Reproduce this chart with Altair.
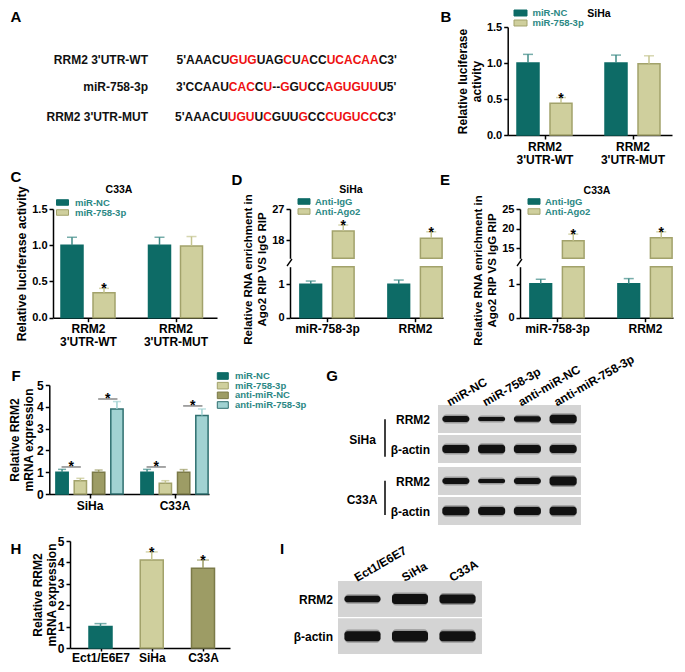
import altair as alt
import pandas as pd

FONT = "Liberation Sans"
OX, OY = 8, 8
W, H = 669, 656


def X(v):
    return v - OX


def Y(v):
    return v - OY


# ---------------- data ----------------
A_labels = ["RRM2 3'UTR-WT", "miR-758-3p", "RRM2 3'UTR-MUT"]
A_runs = [
    ["5'AAACU", "GUG", "UAG", "C", "U", "A", "CC", "UCACAA", "C3'"],
    ["3'CCAAU", "CAC", "C", "U", "--", "G", "G", "U", "CC", "AGUGUU", "U5'"],
    ["5'AAACU", "UGU", "U", "C", "GUU", "G", "CC", "CUGUCC", "C3'"],
]

B_groups = ["RRM2|3'UTR-WT", "RRM2|3'UTR-MUT"]
B_series = ["miR-NC", "miR-758-3p"]
B_mean = {"miR-NC": [1.00, 1.00], "miR-758-3p": [0.44, 0.99]}
B_err = {"miR-NC": [0.12, 0.11], "miR-758-3p": [0.08, 0.11]}
B_star = {"miR-NC": [0, 0], "miR-758-3p": [1, 0]}

C_groups = ["RRM2|3'UTR-WT", "RRM2|3'UTR-MUT"]
C_series = ["miR-NC", "miR-758-3p"]
C_mean = {"miR-NC": [1.00, 1.00], "miR-758-3p": [0.345, 0.99]}
C_err = {"miR-NC": [0.11, 0.11], "miR-758-3p": [0.06, 0.13]}
C_star = {"miR-NC": [0, 0], "miR-758-3p": [1, 0]}

D_groups = ["miR-758-3p", "RRM2"]
D_series = ["Anti-IgG", "Anti-Ago2"]
D_mean = {"Anti-IgG": [1.00, 1.00], "Anti-Ago2": [20.6, 18.5]}
D_err = {"Anti-IgG": [0.10, 0.13], "Anti-Ago2": [1.75, 1.9]}
D_star = {"Anti-IgG": [0, 0], "Anti-Ago2": [1, 1]}

E_groups = ["miR-758-3p", "RRM2"]
E_series = ["Anti-IgG", "Anti-Ago2"]
E_mean = {"Anti-IgG": [1.00, 1.00], "Anti-Ago2": [16.9, 17.7]}
E_err = {"Anti-IgG": [0.13, 0.15], "Anti-Ago2": [1.7, 1.5]}
E_star = {"Anti-IgG": [0, 0], "Anti-Ago2": [1, 1]}

F_groups = ["SiHa", "C33A"]
F_series = ["miR-NC", "miR-758-3p", "anti-miR-NC", "anti-miR-758-3p"]
F_mean = {"miR-NC": [1.00, 1.00], "miR-758-3p": [0.61, 0.49],
          "anti-miR-NC": [1.00, 1.00], "anti-miR-758-3p": [3.90, 3.60]}
F_err = {"miR-NC": [0.13, 0.13], "miR-758-3p": [0.11, 0.12],
         "anti-miR-NC": [0.10, 0.12], "anti-miR-758-3p": [0.34, 0.30]}
F_star = {s: [0, 0] for s in F_series}
F_brk_group = ["SiHa", "SiHa", "C33A", "C33A"]
F_brk_left = ["miR-NC", "anti-miR-NC", "miR-NC", "anti-miR-NC"]
F_brk_y = [1.24, 4.36, 1.24, 4.04]

G_lanes = ["miR-NC", "miR-758-3p", "anti-miR-NC", "anti-miR-758-3p"]
G_cells = ["SiHa", "C33A"]
G_rows = ["RRM2", "β-actin"]
G_band = [[6.0, 4.0, 5.5, 8.5], [8.0, 8.5, 8.0, 8.0],
          [6.0, 4.0, 6.0, 9.0], [8.5, 8.0, 8.0, 8.5]]

H_groups = ["Ect1/E6E7", "SiHa", "C33A"]
H_mean = [1.00, 4.11, 3.73]
H_err = [0.14, 0.38, 0.38]
H_star = [0, 1, 1]

I_lanes = ["Ect1/E6E7", "SiHa", "C33A"]
I_rows = ["RRM2", "β-actin"]
I_band = [[6.5, 10.0, 9.0], [10.0, 10.5, 10.0]]

# ---------------- styles ----------------
TEAL, KHAKI, OLIVE, CYAN = "#0d6b66", "#cfcf9d", "#9d9c65", "#a1d2d2"
TEAL_S, KHAKI_S, OLIVE_S, CYAN_S = "#0d6b66", "#a2a26b", "#7b7a48", "#2f6f6f"
TEAL_E, KHAKI_E, OLIVE_E, CYAN_E = "#3f8b87", "#c4c48f", "#9d9c65", "#a1d2d2"
LEG_TXT = "#2b8884"

AXS = dict(labelFont=FONT, labelFontWeight="bold", labelColor="black",
           domainColor="black", tickColor="black", domainWidth=1.5, tickWidth=1.5,
           grid=False)


def long_df(groups, series, mean, err, star):
    rows = []
    for s in series:
        for i, g in enumerate(groups):
            rows.append(dict(group=g, series=s, mean=mean[s][i], err=err[s][i], star=star[s][i]))
    df = pd.DataFrame(rows)
    df["upper"] = df["mean"] + df["err"]
    return df


def point_scale(L, R, centers, domain):
    n = len(centers)
    S = R - L
    step = (centers[-1] - centers[0]) / (n - 1)
    pad = (S / step - (n - 1)) / 2
    align = (centers[0] - L) / (S - step * (n - 1))
    return alt.Scale(type="point", domain=domain, range=[X(L), X(R)], padding=pad, align=align)


def off_scale(domain, s, w, shift=0.0):
    n = len(domain)
    total = s * (n - 1) + w
    return alt.Scale(type="band", domain=domain, range=[-total / 2 + shift, total / 2 + shift],
                     paddingInner=1 - w / s, paddingOuter=0)


def y_scale(lo, hi, ybot, ytop, clamp=False):
    return alt.Scale(domain=[lo, hi], range=[Y(ybot), Y(ytop)], clamp=clamp, zero=False, nice=False)


def yaxis(axis_x, values, fmt, size=11, title=None, title_left=None, titleY=None, tfs=12):
    kw = dict(AXS)
    kw.update(orient="left", values=values, format=fmt, labelFontSize=size, tickSize=4, labelPadding=2,
              offset=-X(axis_x))
    if title is not None:
        kw.update(title=title, titleFont=FONT, titleFontWeight="bold", titleColor="black",
                  titleFontSize=tfs, titleLineHeight=14, titleAngle=270, titleBaseline="top",
                  titleAlign="center")
        if title_left is not None:
            kw["titleX"] = title_left - axis_x
        if titleY is not None:
            kw["titleY"] = Y(titleY)
    else:
        kw["title"] = None
    return alt.Axis(**kw)


def xaxis(axis_y, size=12, multi=False, tick=4, pad=2):
    kw = dict(AXS)
    kw.update(orient="bottom", title=None, labelAngle=0, labelFontSize=size, tickSize=tick, labelPadding=pad,
              offset=Y(axis_y) - H)
    if multi:
        kw.update(labelExpr="split(datum.label, '|')", labelLineHeight=13)
    return alt.Axis(**kw)


def bar_group(df, series, xs, ys, offs, fills, strokes, errs, xax, yax, base,
              show_bars=None, show_err=None, cap=10, star_dy=5):
    fill = alt.Fill("series:N", scale=alt.Scale(domain=series, range=fills), legend=None)
    stroke = alt.Stroke("series:N", scale=alt.Scale(domain=series, range=strokes), legend=None)
    ecol = alt.Color("series:N", scale=alt.Scale(domain=series, range=errs), legend=None)

    def xo():
        return alt.XOffset("series:N", scale=offs)

    dfb = df if show_bars is None else df[df["series"].isin(show_bars)]
    dfe = df if show_err is None else df[df["series"].isin(show_err)]
    bars = alt.Chart(dfb).mark_bar(strokeWidth=1.5).encode(
        x=alt.X("group:N", scale=xs, axis=xax), xOffset=xo(),
        y=alt.Y("mean:Q", scale=ys, axis=yax), y2=alt.datum(base), fill=fill, stroke=stroke)
    rule = alt.Chart(dfe).mark_rule(strokeWidth=1.5).encode(
        x=alt.X("group:N", scale=xs, axis=None), xOffset=xo(),
        y=alt.Y("mean:Q", scale=ys, axis=None), y2="upper:Q", color=ecol)
    capm = alt.Chart(dfe).mark_tick(size=cap, thickness=1.5).encode(
        x=alt.X("group:N", scale=xs, axis=None), xOffset=xo(),
        y=alt.Y("upper:Q", scale=ys, axis=None), color=ecol)
    layers = [bars, rule, capm]
    dfs = dfe[dfe["star"] == 1]
    if len(dfs):
        st = alt.Chart(dfs).mark_text(text="*", font=FONT, fontWeight="bold", fontSize=14,
                                      baseline="alphabetic", dy=star_dy, color="black").encode(
            x=alt.X("group:N", scale=xs, axis=None), xOffset=xo(),
            y=alt.Y("upper:Q", scale=ys, axis=None))
        layers.append(st)
    return layers


def legend(series, fills, strokes, sym_x, txt_x, y_first, y_last, path, size, fs=9.5):
    df = pd.DataFrame({"series": series})
    ys = alt.Scale(type="point", domain=series, range=[Y(y_first), Y(y_last)], padding=0)
    sym = alt.Chart(df).mark_point(shape=path, filled=True, size=size, strokeWidth=1, opacity=1).encode(
        x=alt.value(X(sym_x)), y=alt.Y("series:N", scale=ys, axis=None),
        fill=alt.Fill("series:N", scale=alt.Scale(domain=series, range=fills), legend=None),
        stroke=alt.Stroke("series:N", scale=alt.Scale(domain=series, range=strokes), legend=None))
    txt = alt.Chart(df).mark_text(align="left", baseline="middle", font=FONT, fontWeight="bold",
                                  fontSize=fs, color=LEG_TXT).encode(
        x=alt.value(X(txt_x)), y=alt.Y("series:N", scale=ys, axis=None), text="series:N")
    return [sym, txt]


def text_layer(rows, align, baseline="middle", color="black"):
    df = pd.DataFrame(rows, columns=["txt", "xp", "yp", "fs"])
    df["xp"] = df["xp"] - OX
    df["yp"] = df["yp"] - OY
    return alt.Chart(df).mark_text(align=align, baseline=baseline, font=FONT, fontWeight="bold",
                                   color=color).encode(
        x=alt.X("xp:Q", scale=None), y=alt.Y("yp:Q", scale=None), text="txt:N",
        size=alt.Size("fs:Q", scale=None))


def strip(lanes, thick, xs, y_top, y_bot, col_labels=None, lab_y=None, lab_dx=-7, lab_fs=12):
    df = pd.DataFrame({"lane": lanes, "t": thick})
    half = (y_bot - y_top) / 2
    ys = alt.Scale(domain=[-half, half], range=[Y(y_bot), Y(y_top)], nice=False, zero=False)
    x0 = xs.range[0]
    x1 = xs.range[1]
    bg = alt.Chart(pd.DataFrame({"k": [0]})).mark_rect(color="#d4d4d4").encode(
        x=alt.value(x0), x2=alt.value(x1), y=alt.value(Y(y_top)), y2=alt.value(Y(y_bot)))
    halo = alt.Chart(df).transform_calculate(hi="datum.t/2 + 1.6", lo="-datum.t/2 - 1.6").mark_bar(
        color="#2a2a2a", opacity=0.35, cornerRadius=4).encode(
        x=alt.X("lane:N", scale=xs, axis=None), y=alt.Y("hi:Q", scale=ys, axis=None), y2="lo:Q")
    band = alt.Chart(df).transform_calculate(hi="datum.t/2", lo="-datum.t/2").mark_bar(
        color="#111111", cornerRadius=3).encode(
        x=alt.X("lane:N", scale=xs, axis=None), y=alt.Y("hi:Q", scale=ys, axis=None), y2="lo:Q")
    layers = [bg, halo, band]
    if col_labels:
        lab = alt.Chart(df).mark_text(angle=330, align="left", baseline="alphabetic", dx=lab_dx,
                                      font=FONT, fontWeight="bold", fontSize=lab_fs, color="black").encode(
            x=alt.X("lane:N", scale=xs, axis=None), y=alt.value(Y(lab_y)), text="lane:N")
        layers.append(lab)
    return layers


def band_scale(L, R, domain, pin, pout):
    return alt.Scale(type="band", domain=domain, range=[X(L), X(R)], paddingInner=pin, paddingOuter=pout)


children = []

# ---------------- panel A ----------------
WID = {"A": 722, "C": 722, "G": 778, "U": 722, "'": 238, "5": 556, "3": 556, "-": 333}
A_y = [60, 87, 117]
A_x0 = [176.5, 176.0, 175.0]
A_fs = 12
red_rows, blk_rows = [], []
for r, runs in enumerate(A_runs):
    xcur = A_x0[r]
    for k, run in enumerate(runs):
        (red_rows if k % 2 == 1 else blk_rows).append((run, xcur, A_y[r], A_fs))
        xcur += sum(WID[c] for c in run) * A_fs / 1000.0
children.append(text_layer(blk_rows, "left", color="#111111"))
children.append(text_layer(red_rows, "left", color="#ee1111"))
children.append(text_layer([(A_labels[i], 148, A_y[i], A_fs) for i in range(3)], "right", color="#111111"))

# ---------------- panel B ----------------
dfB = long_df(B_groups, B_series, B_mean, B_err, B_star)
xsB = point_scale(507.7, 672, [544.5, 632.5], B_groups)
ysB = y_scale(0, 1.5, 135, 27)
ofB = off_scale(B_series, 33, 22)
children += bar_group(
    dfB, B_series, xsB, ysB, ofB, [TEAL, KHAKI], [TEAL_S, KHAKI_S], [TEAL_E, KHAKI_E],
    xaxis(135, multi=True),
    yaxis(507.7, [0, 0.5, 1.0, 1.5], ".1f", title=["Relative luciferase", "activity"], title_left=457), 0)
children += legend(B_series, [TEAL, KHAKI], [TEAL_S, KHAKI_S], 520.5, 532.5, 13, 23,
                   "M-1,-0.46H1V0.46H-1Z", 169)

# ---------------- panel C ----------------
dfC = long_df(C_groups, C_series, C_mean, C_err, C_star)
xsC = point_scale(53, 217, [88, 175.5], C_groups)
ysC = y_scale(0, 1.5, 317.7, 209)
ofC = off_scale(C_series, 32, 22)
children += bar_group(
    dfC, C_series, xsC, ysC, ofC, [TEAL, KHAKI], [TEAL_S, KHAKI_S], [TEAL_E, KHAKI_E],
    xaxis(317.7, multi=True),
    yaxis(53, [0, 0.5, 1.0, 1.5], ".1f", title="Relative luciferase activity", title_left=15, tfs=12.4), 0)
children += legend(C_series, [TEAL, KHAKI], [TEAL_S, KHAKI_S], 62.5, 75, 202.5, 212.5,
                   "M-1,-0.46H1V0.46H-1Z", 144)


# ---------------- panels D and E (broken axes) ----------------
def broken_panel(groups, series, mean, err, star, L, R, centers, axis_x,
                 low_top, up_lo, up_bot, up_hi, up_vals, titleY, title_left):
    df = long_df(groups, series, mean, err, star)
    xs = point_scale(L, R, centers, groups)
    of = off_scale(series, 32.5, 21.7)
    ys_low = y_scale(0, low_top, 317.7, 266.7, clamp=True)
    ys_up = y_scale(up_lo, up_hi, up_bot, 209, clamp=True)
    low = bar_group(df, series, xs, ys_low, of, [TEAL, KHAKI], [TEAL_S, KHAKI_S], [TEAL_E, KHAKI_E],
                    xaxis(317.7),
                    yaxis(axis_x, [0, 1], "d", title=["Relative RNA enrichment in", "Ago2 RIP VS IgG RIP"],
                          title_left=title_left, titleY=titleY, tfs=11.5),
                    0, show_err=[series[0]])
    up = bar_group(df, series, xs, ys_up, of, [TEAL, KHAKI], [TEAL_S, KHAKI_S], [TEAL_E, KHAKI_E],
                   None, yaxis(axis_x, up_vals, "d"), up_lo, show_bars=[series[1]], show_err=[series[1]])
    brk = alt.Chart(pd.DataFrame({"k": [0]})).mark_rule(color="black", strokeWidth=1.3).encode(
        x=alt.value(X(axis_x - 3)), x2=alt.value(X(axis_x + 2)),
        y=alt.value(Y(266)), y2=alt.value(Y(259)))
    return low + up + [brk]


children += broken_panel(D_groups, D_series, D_mean, D_err, D_star, 290, 443, [327, 415], 290,
                         1.53, 12.7, 258.3, 27, [18, 27], 269, 242)
children += legend(D_series, [TEAL, KHAKI], [TEAL_S, KHAKI_S], 304, 315, 201.5, 211.5,
                   "M-1,-0.46H1V0.46H-1Z", 144)
children += broken_panel(E_groups, E_series, E_mean, E_err, E_star, 520, 673, [557, 645], 520,
                         1.5, 12.45, 258.3, 25, [15, 20, 25], 270, 472)
children += legend(E_series, [TEAL, KHAKI], [TEAL_S, KHAKI_S], 534, 545, 201.5, 211.5,
                   "M-1,-0.46H1V0.46H-1Z", 144)

# ---------------- panel F ----------------
dfF = long_df(F_groups, F_series, F_mean, F_err, F_star)
xsF = point_scale(49.3, 209, [89.5, 174.5], F_groups)
ysF = y_scale(0, 5, 494, 385)
F_s, F_w = 18.3, 12.3
ofF = off_scale(F_series, F_s, F_w)
F_fills = [TEAL, KHAKI, OLIVE, CYAN]
F_strokes = [TEAL_S, KHAKI_S, OLIVE_S, CYAN_S]
F_errs = [TEAL_E, KHAKI_E, OLIVE_E, CYAN_E]
children += bar_group(dfF, F_series, xsF, ysF, ofF, F_fills, F_strokes, F_errs,
                      xaxis(494), yaxis(49.3, [0, 1, 2, 3, 4, 5], "d", size=12,
                                        title=["Relative RRM2", "mRNA expression"], title_left=9.5),
                      0, cap=8)
dfFb = pd.DataFrame({"group": F_brk_group, "series": F_brk_left, "y": F_brk_y})
ofFb = off_scale(F_series, F_s, F_w, shift=F_s / 2)
children.append(alt.Chart(dfFb).mark_tick(size=F_s + 1, thickness=1.5, color="#555555").encode(
    x=alt.X("group:N", scale=xsF, axis=None), xOffset=alt.XOffset("series:N", scale=ofFb),
    y=alt.Y("y:Q", scale=ysF, axis=None)))
children.append(alt.Chart(dfFb).mark_text(text="*", font=FONT, fontWeight="bold", fontSize=14,
                                          baseline="alphabetic", dy=4, color="black").encode(
    x=alt.X("group:N", scale=xsF, axis=None), xOffset=alt.XOffset("series:N", scale=ofFb),
    y=alt.Y("y:Q", scale=ysF, axis=None)))
children += legend(F_series, F_fills, F_strokes, 222.8, 235, 376, 405,
                   "M-1,-0.6H1V0.6H-1Z", 121, fs=9.5)

# ---------------- panel G (blot) ----------------
xsG = band_scale(438, 581, G_lanes, 0.244, 0.122)
G_strip_y = [(405, 433), (435, 463), (467, 495), (497, 525)]
for k, (t, b) in enumerate(G_strip_y):
    children += strip(G_lanes, G_band[k], xsG, t, b, col_labels=(k == 0), lab_y=403, lab_dx=-7)
g_rows = []
for k, (t, b) in enumerate(G_strip_y):
    g_rows.append((G_rows[k % 2], 430, (t + b) / 2 + 0.5, 12))
children.append(text_layer(g_rows, "right"))
children.append(text_layer([(G_cells[0], 362.5, 440, 12), (G_cells[1], 362, 499.5, 12)], "center"))
gl = alt.Chart(pd.DataFrame({"k": [0]}))
children.append(gl.mark_rule(color="black", strokeWidth=1.5).encode(
    x=alt.value(X(385)), y=alt.value(Y(419.3)), y2=alt.value(Y(456.7))))
children.append(gl.mark_rule(color="black", strokeWidth=1.5).encode(
    x=alt.value(X(385)), y=alt.value(Y(480.7)), y2=alt.value(Y(515))))

# ---------------- panel H ----------------
dfH = pd.DataFrame({"group": H_groups, "series": H_groups, "mean": H_mean, "err": H_err, "star": H_star})
dfH["upper"] = dfH["mean"] + dfH["err"]
xsH = point_scale(70, 230, [100.5, 152, 203], H_groups)
H_bot, H_top = 648, 541
ysH = y_scale(0, 5, H_bot, H_top)
H_fill = alt.Fill("series:N", scale=alt.Scale(domain=H_groups, range=[TEAL, KHAKI, OLIVE]), legend=None)
H_stroke = alt.Stroke("series:N", scale=alt.Scale(domain=H_groups, range=[TEAL_S, KHAKI_S, OLIVE_S]), legend=None)
H_ecol = alt.Color("series:N", scale=alt.Scale(domain=H_groups, range=[TEAL_E, KHAKI_E, OLIVE_E]), legend=None)
children.append(alt.Chart(dfH).mark_bar(size=23, strokeWidth=1.5).encode(
    x=alt.X("group:N", scale=xsH, axis=xaxis(H_bot, tick=3, pad=1)),
    y=alt.Y("mean:Q", scale=ysH, axis=yaxis(70, [0, 1, 2, 3, 4, 5], "d", size=12,
                                           title=["Relative RRM2", "mRNA expression"], title_left=32)),
    y2=alt.datum(0), fill=H_fill, stroke=H_stroke))
children.append(alt.Chart(dfH).mark_rule(strokeWidth=1.5).encode(
    x=alt.X("group:N", scale=xsH, axis=None), y=alt.Y("mean:Q", scale=ysH, axis=None), y2="upper:Q",
    color=H_ecol))
children.append(alt.Chart(dfH).mark_tick(size=12, thickness=1.5).encode(
    x=alt.X("group:N", scale=xsH, axis=None), y=alt.Y("upper:Q", scale=ysH, axis=None), color=H_ecol))
children.append(alt.Chart(dfH[dfH["star"] == 1]).mark_text(
    text="*", font=FONT, fontWeight="bold", fontSize=14, baseline="alphabetic", dy=5, color="black").encode(
    x=alt.X("group:N", scale=xsH, axis=None), y=alt.Y("upper:Q", scale=ysH, axis=None)))

# ---------------- panel I (blot) ----------------
xsI = band_scale(338, 482, I_lanes, 0.242, 0.136)
I_strip_y = [(581, 617), (618.3, 654)]
for k, (t, b) in enumerate(I_strip_y):
    children += strip(I_lanes, I_band[k], xsI, t, b, col_labels=(k == 0), lab_y=579, lab_dx=-6)
children.append(text_layer([(I_rows[0], 333, 600, 12), (I_rows[1], 333, 637, 12)], "right"))

# ---------------- titles and panel letters ----------------
children.append(text_layer([("SiHa", 599, 14, 10.5), ("C33A", 119, 190, 10.5),
                            ("SiHa", 351, 190, 10.5), ("C33A", 597, 191, 10.5)], "center"))
children.append(text_layer([("A", 16, 17, 15), ("B", 446, 17, 15), ("C", 16, 177, 15), ("D", 237, 180, 15),
                            ("E", 445, 180, 15), ("F", 16, 376, 15), ("G", 332, 376, 15),
                            ("H", 16, 549, 15), ("I", 282, 549, 15)], "center"))

chart = alt.layer(*children).resolve_scale(
    x="independent", y="independent", xOffset="independent",
    color="independent", fill="independent", stroke="independent", size="independent"
).properties(width=W, height=H, padding=0, autosize=alt.AutoSizeParams(type="none")
).configure_view(stroke=None).configure_axis(grid=False)

chart.save("out.html", embed_options={"renderer": "svg", "actions": False})
